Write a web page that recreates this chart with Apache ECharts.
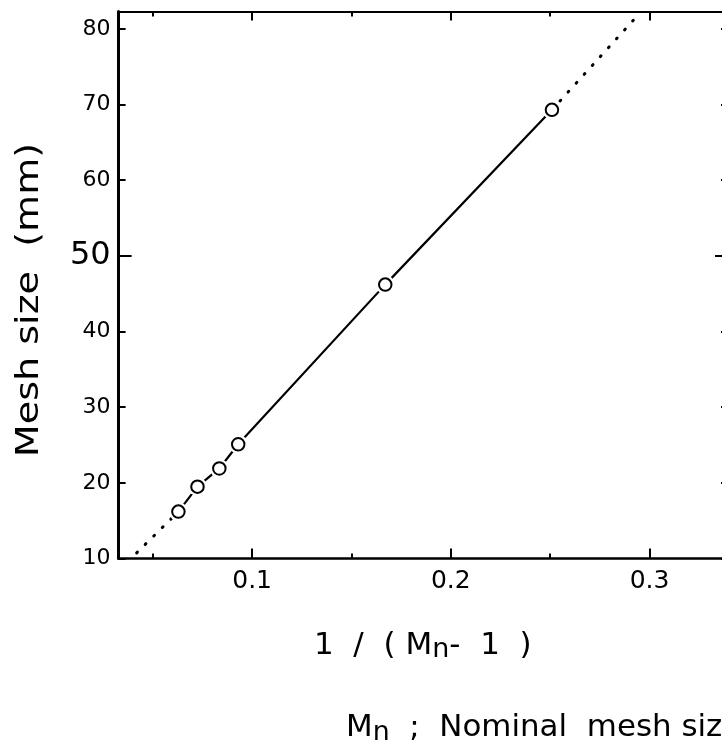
<!DOCTYPE html>
<html>
<head>
<meta charset="utf-8">
<script src="https://cdn.jsdelivr.net/npm/echarts@6/dist/echarts.min.js"></script>
<style>
html,body{margin:0;padding:0;background:#fff;}
#chart{width:722px;height:750px;}
</style>
</head>
<body>
<div id="chart"></div>
<script>
// ---- data ----
const xValues = [0.0629, 0.0725, 0.0835, 0.0930, 0.167, 0.2509];   // 1/(Mn-1)
const yValues = [16.2, 19.5, 21.9, 25.1, 46.2, 69.3];              // mesh size (mm)
const lowerExtensionEnd = [0.0419, 10.75];   // dotted extrapolation, lower end
const upperExtensionEnd = [0.2955, 82.2];    // dotted extrapolation, upper end
const xLabelValues = [0.1, 0.2, 0.3];
const xMinorTickValues = [0.05, 0.15, 0.25];
const xTopMajorTicks = [0.1, 0.2, 0.3];
const xTopMinorTicks = [0.05, 0.15, 0.25];
const yTickValues = [10, 20, 30, 40, 50, 60, 70, 80];
const yMajorTickValues = [50];
const xRange = [0.0328, 0.339];
const yRange = [10, 82.3];

const FONT = 'DejaVu Sans';
const points = xValues.map((x, i) => [x, yValues[i]]);

const chart = echarts.init(document.getElementById('chart'), null, {renderer: 'canvas'});

function xAxisBase(pos, extra) {
  return Object.assign({
    type: 'value', position: pos, min: xRange[0], max: xRange[1],
    splitLine: {show: false},
    axisLine: {show: false},
    axisLabel: {show: false},
    axisTick: {show: false}
  }, extra);
}
function yAxisBase(pos, extra) {
  return Object.assign({
    type: 'value', position: pos, min: yRange[0], max: yRange[1],
    splitLine: {show: false},
    axisLine: {show: false},
    axisLabel: {show: false},
    axisTick: {show: false}
  }, extra);
}

const option = {
  backgroundColor: '#fff',
  animation: false,
  grid: {left: 118.6, top: 11.5, width: 608.4, height: 547, outerBoundsMode: 'none', containLabel: false},
  xAxis: [
    xAxisBase('bottom', {
      axisLine: {show: true, onZero: false, lineStyle: {color: '#000', width: 2.5}},
      axisTick: {show: true, inside: true, length: 10, customValues: xLabelValues, lineStyle: {color: '#000', width: 2}},
      axisLabel: {show: true, customValues: xLabelValues, color: '#000', fontSize: 25, fontFamily: FONT, margin: 10,
        formatter: v => v.toFixed(1)},
      name: '1  /  ( M{sub|n}-  1  )',
      nameLocation: 'middle',
      nameGap: 69,
      nameTextStyle: {color: '#000', fontSize: 31, fontFamily: FONT, lineHeight: 36,
        rich: {sub: {fontSize: 27, fontFamily: FONT, color: '#000', lineHeight: 22, verticalAlign: 'bottom'}}}
    }),
    xAxisBase('bottom', {
      axisTick: {show: true, inside: true, length: 5, customValues: xMinorTickValues, lineStyle: {color: '#000', width: 2}}
    }),
    xAxisBase('top', {
      axisLine: {show: true, onZero: false, lineStyle: {color: '#000', width: 2}},
      axisTick: {show: true, inside: true, length: 9, customValues: xTopMajorTicks, lineStyle: {color: '#000', width: 2}}
    }),
    xAxisBase('top', {
      axisTick: {show: true, inside: true, length: 5, customValues: xTopMinorTicks, lineStyle: {color: '#000', width: 2}}
    })
  ],
  yAxis: [
    yAxisBase('left', {
      axisLine: {show: true, onZero: false, lineStyle: {color: '#000', width: 3}},
      axisTick: {show: true, inside: true, length: 7, customValues: yTickValues, lineStyle: {color: '#000', width: 2}},
      axisLabel: {show: true, customValues: yTickValues, color: '#000', fontSize: 22, fontFamily: FONT, margin: 8,
        formatter: v => v === 50 ? '{big|50}' : String(v),
        rich: {big: {fontSize: 32, fontFamily: FONT, color: '#000'}}}
    }),
    yAxisBase('left', {
      axisTick: {show: true, inside: true, length: 13, customValues: yMajorTickValues, lineStyle: {color: '#000', width: 2}}
    }),
    yAxisBase('right', {
      axisLine: {show: true, onZero: false, lineStyle: {color: '#000', width: 2}},
      axisTick: {show: true, inside: true, length: 6, customValues: yTickValues, lineStyle: {color: '#000', width: 2}}
    }),
    yAxisBase('right', {
      axisTick: {show: true, inside: true, length: 12, customValues: yMajorTickValues, lineStyle: {color: '#000', width: 2}}
    })
  ],
  series: [
    {
      type: 'line', xAxisIndex: 0, yAxisIndex: 0, z: 1,
      data: [lowerExtensionEnd, points[0]],
      symbol: 'none', silent: true,
      lineStyle: {color: '#000', width: 3, type: [1, 11], cap: 'round'}
    },
    {
      type: 'line', xAxisIndex: 0, yAxisIndex: 0, z: 1,
      data: [points[points.length - 1], upperExtensionEnd],
      symbol: 'none', silent: true,
      lineStyle: {color: '#000', width: 3, type: [1, 11], cap: 'round'}
    },
    {
      type: 'line', xAxisIndex: 0, yAxisIndex: 0, z: 1,
      data: points, symbol: 'none', silent: true,
      lineStyle: {color: '#000', width: 2.2}
    },
    {
      type: 'scatter', xAxisIndex: 0, yAxisIndex: 0, z: 2,
      data: points, symbol: 'circle', symbolSize: 19, silent: true,
      itemStyle: {color: '#fff', opacity: 1}
    },
    {
      type: 'scatter', xAxisIndex: 0, yAxisIndex: 0, z: 3,
      data: points, symbol: 'circle', symbolSize: 12.5, silent: true,
      itemStyle: {color: '#fff', borderColor: '#000', borderWidth: 2, opacity: 1}
    }
  ],
  graphic: [
    {
      type: 'text', x: 30, y: 300, rotation: Math.PI / 2, scaleX: 1.19, scaleY: 1,
      style: {text: 'Mesh size  (mm)', fontSize: 32, fontFamily: FONT, fill: '#000',
        align: 'center', verticalAlign: 'middle'}
    },
    {
      type: 'text', x: 346, y: 728, scaleX: 1.03, scaleY: 1,
      style: {
        text: '{a|M}{s|n}{a|  ;  Nominal  mesh size}',
        fill: '#000', align: 'left', verticalAlign: 'middle',
        rich: {
          a: {fontSize: 30, fontFamily: FONT, fill: '#000', lineHeight: 36},
          s: {fontSize: 26, fontFamily: FONT, fill: '#000', lineHeight: 22, verticalAlign: 'bottom'}
        }
      }
    }
  ]
};
chart.setOption(option);
</script>
</body>
</html>
